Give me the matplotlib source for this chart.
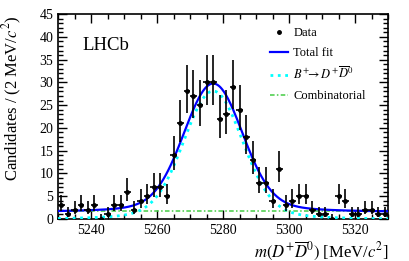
import numpy as np
import matplotlib
matplotlib.use('Agg')
import matplotlib.pyplot as plt
from matplotlib.ticker import MultipleLocator
from matplotlib.lines import Line2D

plt.rcParams['font.family'] = ['Liberation Serif', 'DejaVu Serif']
plt.rcParams['mathtext.fontset'] = 'stix'

# binned data, 2 MeV bins from 5230 to 5330
bin_centres = np.arange(5231, 5330, 2)
counts = [3, 1, 2, 3, 2, 3, 0, 1, 3, 3,
          6, 2, 4, 5, 7, 7, 5, 14, 21, 28,
          27, 25, 30, 30, 22, 23, 29, 24, 18, 13,
          8, 8, 4, 11, 3, 4, 5, 5, 2, 1,
          1, 0, 5, 4, 1, 1, 2, 2, 1, 1]

# fit shape (events per bin)
sig_mean = 5277.0
sig_core_height, sig_core_width = 26.5, 8.7
sig_tail_height, sig_tail_width = 1.6, 20.0
comb_level = 1.65

n = np.array(counts, dtype=float)
err_hi = 0.5 + np.sqrt(n + 0.25)
err_lo = np.sqrt(n + 0.25) - 0.5

m = np.linspace(5230, 5330, 500)
d = m - sig_mean
signal = (sig_core_height * np.exp(-d**2 / (2 * sig_core_width**2))
          + sig_tail_height * np.exp(-d**2 / (2 * sig_tail_width**2)))
comb = np.full_like(m, comb_level)
total = signal + comb

fig = plt.figure(figsize=(4.09, 2.61), dpi=100)
ax = fig.add_axes([0.142, 0.161, 0.807, 0.785])

l_comb, = ax.plot(m, comb, linestyle=(0, (3, 1.5, 1, 1.5)), color='#44cc44', lw=1.1, zorder=2)
l_sig, = ax.plot(m, signal, ':', color='#00ffff', lw=2.0, zorder=3)
l_tot, = ax.plot(m, total, '-', color='#0000ff', lw=1.6, zorder=4)
ax.errorbar(bin_centres, n, yerr=[err_lo, err_hi], xerr=1.0, fmt='o',
            color='black', ms=2.5, elinewidth=1.2, capsize=0, zorder=5)

ax.set_xlim(5230, 5330)
ax.set_ylim(0, 45)
ax.xaxis.set_major_locator(MultipleLocator(20))
ax.xaxis.set_minor_locator(MultipleLocator(5))
ax.yaxis.set_major_locator(MultipleLocator(5))
ax.yaxis.set_minor_locator(MultipleLocator(1))
ax.tick_params(which='both', direction='in', top=True, right=True, labelsize=10, width=1.0)
ax.tick_params(which='major', length=6.5)
ax.tick_params(which='minor', length=3.5)
for s in ax.spines.values():
    s.set_linewidth(1.2)

ax.set_ylabel(r'Candidates / (2 MeV/$c^{2}$)', fontsize=12, ha='right')
ax.yaxis.set_label_coords(-0.102, 0.995)
ax.set_xlabel(r'$m(D^{+}\overline{D}^{0})$ [MeV/$c^{2}$]', fontsize=12, ha='right')
ax.xaxis.set_label_coords(1.0, -0.1)

ax.text(0.075, 0.845, 'LHCb', transform=ax.transAxes, fontsize=13.5, va='center')

data_handle = Line2D([], [], marker='o', ms=2.5, color='black', linestyle='none')
ax.legend([data_handle, l_tot, l_sig, l_comb],
          ['Data', 'Total fit', r'$B^{+}\!\!\to D^{+}\overline{D}^{0}$', 'Combinatorial'],
          loc='upper left', bbox_to_anchor=(0.607, 0.99), frameon=False,
          fontsize=9, handlelength=1.5, handletextpad=0.4, labelspacing=0.6)

fig.savefig('out.png', dpi=100)
